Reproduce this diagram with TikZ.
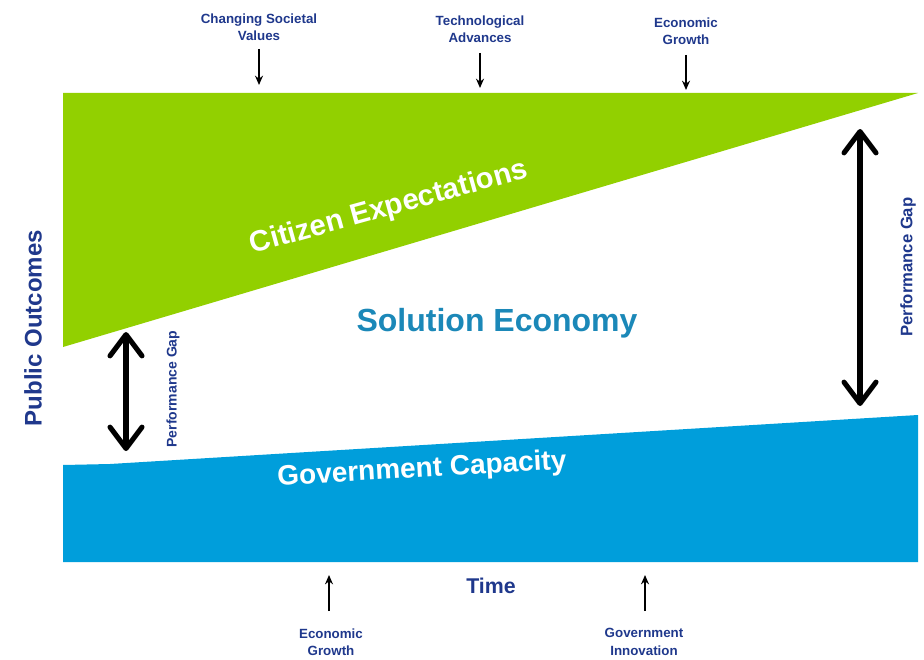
\documentclass[tikz,border=0pt]{standalone}
\usepackage{fontspec}
\setmainfont{Liberation Sans}
\usetikzlibrary{arrows.meta}
\definecolor{expgreen}{RGB}{146,208,0}
\definecolor{capblue}{RGB}{0,158,219}
\definecolor{labblue}{RGB}{31,56,140}
\definecolor{solteal}{RGB}{27,136,184}
\tikzset{
  lbl/.style={font=\bfseries\fontsize{10}{13}\selectfont, text=labblue, align=center, inner sep=1pt},
  smallarrow/.style={-{Stealth[length=7pt,width=6pt]}, line width=1.4pt, black},
  gaparrow/.style={{Straight Barb[length=16pt,width=24pt,line cap=round,line join=round]}-{Straight Barb[length=16pt,width=24pt,line cap=round,line join=round]}, line width=3.8pt, black},
  bigtext/.style={font=\bfseries\fontsize{22}{26}\selectfont, text=white, inner sep=0pt},
  gaptext/.style={font=\bfseries\fontsize{10.5}{12}\selectfont, text=labblue, rotate=90, inner sep=0pt}
}
\begin{document}
\begin{tikzpicture}[x=0.75pt,y=-0.75pt]
\useasboundingbox (0,0) rectangle (924,660);
% shapes
\fill[expgreen] (63,93) -- (918,93) -- (63,347) -- cycle;
\fill[capblue] (63,465) -- (110,464) -- (918,415) -- (918,562) -- (63,562) -- cycle;
% big texts
\node[bigtext, rotate=15.5] (ce) at (389,208) {Citizen Expectations};
\node[bigtext, rotate=3.2, font=\bfseries\fontsize{21}{25}\selectfont] (gc) at (422,470) {Government Capacity};
\node[font=\bfseries\fontsize{24}{28}\selectfont, text=solteal, inner sep=0pt] (se) at (497,323) {Solution Economy};
\node[font=\bfseries\fontsize{18}{22}\selectfont, text=labblue, rotate=90, inner sep=0pt] (po) at (33,328) {Public Outcomes};
\node[font=\bfseries\fontsize{16}{20}\selectfont, text=labblue, inner sep=0pt] (time) at (491,586) {Time};
% top labels
\node[lbl] (csv) at (259,27) {Changing Societal\\Values};
\node[lbl] (ta) at (480,29) {Technological\\Advances};
\node[lbl] (eg1) at (686,31) {Economic\\Growth};
\coordinate (t1) at (259,85);
\coordinate (t2) at (480,88);
\coordinate (t3) at (686,90);
\draw[smallarrow] (csv.south |- 0,49) -- (t1);
\draw[smallarrow] (ta.south |- 0,53) -- (t2);
\draw[smallarrow] (eg1.south |- 0,55) -- (t3);
% bottom labels
\node[lbl] (eg2) at (331,642) {Economic\\Growth};
\node[lbl] (gi) at (644,642) {Government\\Innovation};
\coordinate (b1) at (329,575);
\coordinate (b2) at (645,575);
\draw[smallarrow] (b1 |- 0,611) -- (b1);
\draw[smallarrow] (b2 |- 0,611) -- (b2);
% performance gaps
\coordinate (lg1) at (126,332);
\coordinate (lg2) at (126,451);
\draw[gaparrow] (lg1) -- (lg2);
\node[gaptext] (pgl) at (173,389) {Performance Gap};
\coordinate (rg1) at (860,129);
\coordinate (rg2) at (860,406);
\draw[gaparrow] (rg1) -- (rg2);
\node[gaptext, font=\bfseries\fontsize{12.5}{14}\selectfont] (pgr) at (908,267) {Performance Gap};
\end{tikzpicture}
\end{document}
